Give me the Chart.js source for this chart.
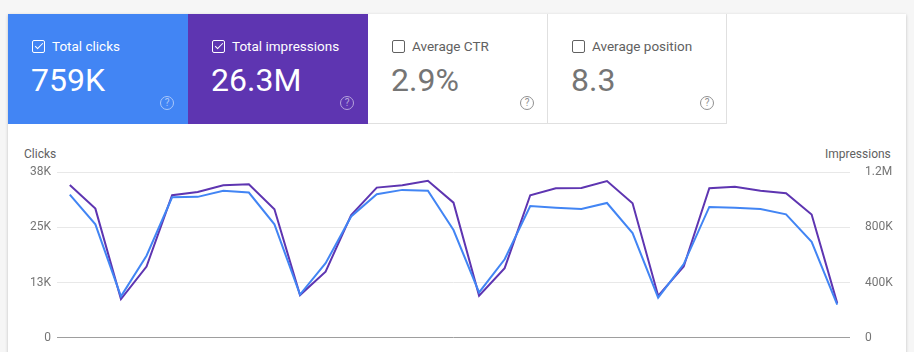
<!DOCTYPE html>
<html>
<head>
<meta charset="utf-8">
<script src="https://cdn.jsdelivr.net/npm/chart.js@4"></script>
<style>
  html, body { margin: 0; padding: 0; }
  body { width: 914px; height: 352px; overflow: hidden; background: #f6f6f6; font-family: Roboto, "Noto Sans", sans-serif; position: relative; }
  .card { position: absolute; left: 8px; top: 14px; width: 898px; height: 360px; background: #fff; box-shadow: 0 1px 3px rgba(0,0,0,.22); }
  .tile { position: absolute; top: 0; width: 180px; height: 110px; box-sizing: border-box; }
  .tile .lbl { position: absolute; left: 24px; top: 24px; font-size: 13.5px; line-height: 16px; display: flex; align-items: center; }
  .tile .box { width: 11px; height: 11px; border: 1.5px solid currentColor; border-radius: 2px; margin-right: 7px; position: relative; }
  .tile .box.on::after { content: ''; position: absolute; left: 3.5px; top: 0.5px; width: 3px; height: 7px; border: solid currentColor; border-width: 0 1.5px 1.5px 0; transform: rotate(45deg); }
  .tile .val { position: absolute; left: 23px; top: 47px; font-size: 32px; line-height: 38px; }
  .tile .help { position: absolute; left: 152px; top: 82px; width: 12px; height: 12px; border: 1.3px solid currentColor; border-radius: 50%; font-size: 10px; line-height: 12px; text-align: center; opacity: .55; }
  .t1 { left: 0; background: #4285f4; color: #fff; }
  .t2 { left: 180px; background: #5e35b1; color: #fff; }
  .t3 { left: 360px; color: #757575; border-right: 1px solid #e0e0e0; border-bottom: 1px solid #e0e0e0; }
  .t4 { left: 540px; width: 179px; color: #757575; border-right: 1px solid #e0e0e0; border-bottom: 1px solid #e0e0e0; }
  .t3 .lbl, .t4 .lbl { color: #616161; }
  .t3 .help, .t4 .help { opacity: .8; }
  .axtitle { position: absolute; top: 147px; font-size: 12px; color: #616161; }
  #wrap { position: absolute; left: 0; top: 140px; width: 914px; height: 212px; }
</style>
</head>
<body>
<div class="card">
  <div class="tile t1"><div class="lbl"><span class="box on"></span>Total clicks</div><div class="val">759K</div><div class="help">?</div></div>
  <div class="tile t2"><div class="lbl"><span class="box on"></span>Total impressions</div><div class="val">26.3M</div><div class="help">?</div></div>
  <div class="tile t3"><div class="lbl"><span class="box"></span>Average CTR</div><div class="val">2.9%</div><div class="help">?</div></div>
  <div class="tile t4"><div class="lbl"><span class="box"></span>Average position</div><div class="val">8.3</div><div class="help">?</div></div>
</div>
<div class="axtitle" style="left:24px">Clicks</div>
<div class="axtitle" style="left:825px">Impressions</div>
<div id="wrap"><canvas id="chart"></canvas></div>
<script>
// daily labels for one month
const days = ['1','2','3','4','5','6','7','8','9','10','11','12','13','14','15','16',
  '17','18','19','20','21','22','23','24','25','26','27','28','29','30','31'];

const clicks = [32800, 26000, 9500, 18800, 32200, 32300, 33700, 33300, 26000, 9900,
  17100, 27800, 32900, 33900, 33700, 24700, 10400, 18000, 30200, 29800,
  29500, 30900, 24000, 9200, 16900, 30000, 29800, 29500, 28300, 22000, 7600];

const impressions = [1106000, 935000, 280000, 516000, 1032000, 1056000, 1104000, 1111000, 930000, 309000,
  479000, 889000, 1087000, 1104000, 1137000, 978000, 304000, 504000, 1032000, 1082000,
  1085000, 1135000, 974000, 304000, 516000, 1082000, 1094000, 1065000, 1046000, 892000, 251000];

const clicksMax = 38000;
const imprMax = 1200000;

const fmtK = v => v === 0 ? '0' : Math.round(v / 1000) + 'K';
const fmtM = v => v === 0 ? '0' : (v >= 1e6 ? (v / 1e6).toFixed(1) + 'M' : Math.round(v / 1000) + 'K');

new Chart(document.getElementById('chart'), {
  type: 'line',
  data: {
    labels: days,
    datasets: [
      {
        label: 'Clicks',
        data: clicks,
        yAxisID: 'y',
        borderColor: '#4285f4',
        borderWidth: 2,
        pointRadius: 0,
        tension: 0,
        order: 1
      },
      {
        label: 'Impressions',
        data: impressions,
        yAxisID: 'y2',
        borderColor: '#5e35b1',
        borderWidth: 2,
        pointRadius: 0,
        tension: 0,
        order: 2
      }
    ]
  },
  options: {
    responsive: true,
    maintainAspectRatio: false,
    animation: false,
    layout: { padding: { top: 32, bottom: 14, left: 0, right: 0 } },
    plugins: { legend: { display: false }, tooltip: { enabled: false } },
    scales: {
      x: { display: false, offset: true },
      y: {
        position: 'left',
        min: 0,
        max: clicksMax,
        afterBuildTicks: ax => { ax.ticks = [0, 1, 2, 3].map(i => ({ value: clicksMax / 3 * i })); },
        afterFit: ax => { ax.width = 57; },
        border: { display: false },
        grid: {
          drawTicks: false,
          color: ctx => ctx.tick && ctx.tick.value === 0 ? '#9e9e9e' : '#e8e8e8'
        },
        ticks: { callback: fmtK, padding: 6, color: '#757575', font: { family: 'Roboto', size: 12 } }
      },
      y2: {
        position: 'right',
        min: 0,
        max: imprMax,
        afterBuildTicks: ax => { ax.ticks = [0, 1, 2, 3].map(i => ({ value: imprMax / 3 * i })); },
        afterFit: ax => { ax.width = 64; },
        border: { display: false },
        grid: { display: false },
        ticks: { callback: fmtM, padding: 7, color: '#757575', font: { family: 'Roboto', size: 12 } }
      }
    }
  }
});
</script>
</body>
</html>
